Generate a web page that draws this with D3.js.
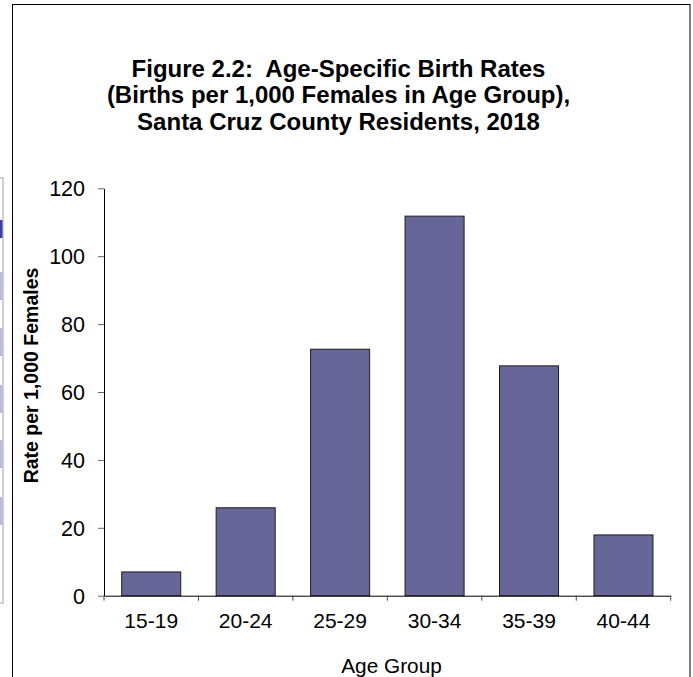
<!DOCTYPE html>
<html>
<head>
<meta charset="utf-8">
<script src="https://cdn.jsdelivr.net/npm/d3@7"></script>
<style>
  html, body { margin: 0; padding: 0; background: #fff; }
  svg { display: block; }
  text { font-family: "Liberation Sans", Arial, sans-serif; fill: #000; white-space: pre; }
</style>
</head>
<body>
<svg id="chart" width="693" height="677"></svg>
<script>
const categories = ["15-19", "20-24", "25-29", "30-34", "35-39", "40-44"];
const rates = [7.0, 25.9, 72.6, 111.8, 67.7, 17.9];
const yTicks = [0, 20, 40, 60, 80, 100, 120];
const titleLines = [
  "Figure 2.2:  Age-Specific Birth Rates",
  "(Births per 1,000 Females in Age Group),",
  "Santa Cruz County Residents, 2018"
];
const yTitle = "Rate per 1,000 Females";
const xTitle = "Age Group";

(function () {
const svg = d3.select("#chart");

// left-edge fragment of neighbouring element
const frag = svg.append("g");
frag.append("rect").attr("x", -1).attr("y", 178).attr("width", 4).attr("height", 425)
  .attr("fill", "#fff").attr("stroke", "#a0a0a0").attr("stroke-width", 1);
[[220, 18, "#3b3bb0"], [272, 28, "#b8b8e8"], [328, 28, "#b8b8e8"], [385, 28, "#b8b8e8"],
 [440, 28, "#b8b8e8"], [497, 28, "#b8b8e8"]].forEach(([yy, h, c]) => {
  frag.append("rect").attr("x", 0).attr("y", yy).attr("width", 2.5).attr("height", h).attr("fill", c);
});

// chart border
svg.append("rect").attr("x", 12.5).attr("y", 4.5).attr("width", 677.5).attr("height", 690)
  .attr("fill", "#fff").attr("stroke", "#000").attr("stroke-width", 1);

const pLeft = 104, pRight = 670.7, pTop = 188.3, pBottom = 595.7;

const x = d3.scaleBand().domain(categories).range([pLeft, pRight])
  .paddingInner(0.375).paddingOuter(0.1875);
const y = d3.scaleLinear().domain([0, 120]).range([pBottom, pTop]);

// title
const title = svg.append("text").attr("text-anchor", "middle")
  .attr("font-weight", "bold").attr("font-size", 24);
titleLines.forEach((t, i) => {
  title.append("tspan").attr("x", 338.5).attr("y", 77 + i * 26.3).text(t);
});

// bars
svg.append("g").selectAll("rect").data(categories).join("rect")
  .attr("x", d => x(d))
  .attr("width", x.bandwidth())
  .attr("y", (d, i) => y(rates[i]))
  .attr("height", (d, i) => y(0) - y(rates[i]))
  .attr("fill", "#666699")
  .attr("stroke", "#1e1e1e")
  .attr("stroke-width", 1);

// y axis
const yAxis = svg.append("g").attr("transform", `translate(${pLeft},0)`)
  .call(d3.axisLeft(y).tickValues(yTicks).tickSize(6).tickPadding(13).tickSizeOuter(0));
yAxis.select(".domain").attr("stroke", "#000");
yAxis.selectAll(".tick line").attr("stroke", "#666");
yAxis.selectAll(".tick text").attr("font-size", 21.5)
  .attr("font-family", "'Liberation Sans', Arial, sans-serif").attr("dy", "0.35em");

// x axis
const xAxis = svg.append("g").attr("transform", `translate(0,${pBottom})`)
  .call(d3.axisBottom(x).tickSize(0).tickPadding(17.5).tickSizeOuter(0));
xAxis.select(".domain").attr("stroke", "#000");
xAxis.selectAll(".tick text").attr("font-size", 21)
  .attr("font-family", "'Liberation Sans', Arial, sans-serif");
// category separators
const step = x.step();
const seps = d3.range(categories.length + 1).map(i => pLeft + i * step);
svg.append("g").selectAll("line").data(seps).join("line")
  .attr("x1", d => d).attr("x2", d => d)
  .attr("y1", pBottom).attr("y2", pBottom + 5)
  .attr("stroke", "#444").attr("stroke-width", 1);

// axis titles
svg.append("text").attr("text-anchor", "middle").attr("font-weight", "bold")
  .attr("font-size", 19.5)
  .attr("transform", "translate(38,375.5) rotate(-90)")
  .text(yTitle);
svg.append("text").attr("text-anchor", "middle").attr("font-size", 20.8)
  .attr("x", 391.5).attr("y", 672.5).text(xTitle);
})();
</script>
</body>
</html>
